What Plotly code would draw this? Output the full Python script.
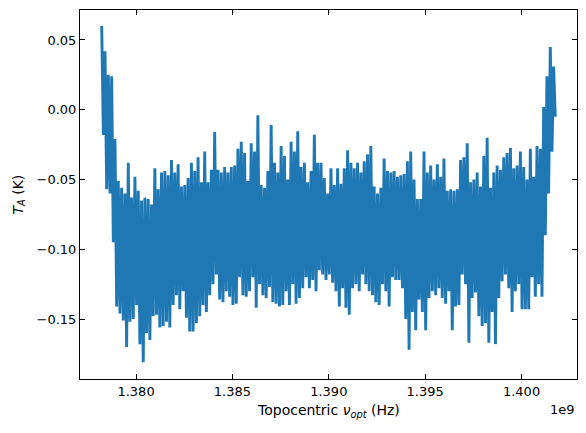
import numpy as np
import plotly.graph_objects as go

# Channel frequency grid (Hz): first and last channel
freq_start = 1.3782175e9
freq_stop = 1.4017497e9

# Upper excursions of the spectrum, left to right (K)
ta_peaks = [
    0.060, 0.042, 0.025, 0.024, -0.021, -0.051, -0.056, -0.060, -0.038, -0.063,
    -0.048, -0.058, -0.065, -0.063, -0.064, -0.068, -0.042, -0.057, -0.045, -0.044,
    -0.047, -0.036, -0.045, -0.039, -0.055, -0.054, -0.049, -0.038, -0.044, -0.034,
    -0.052, -0.030, -0.052, -0.043, -0.016, -0.043, -0.045, -0.041, -0.045, -0.041,
    -0.040, -0.028, -0.023, -0.031, -0.051, -0.024, -0.030, -0.004, -0.054, -0.056,
    -0.044, -0.011, -0.038, -0.045, -0.026, -0.033, -0.050, -0.023, -0.030, -0.0155,
    -0.041, -0.038, -0.052, -0.044, -0.018, -0.038, -0.038, -0.049, -0.060, -0.042,
    -0.054, -0.042, -0.053, -0.042, -0.029, -0.038, -0.042, -0.038, -0.045, -0.037,
    -0.032, -0.026, -0.055, -0.060, -0.056, -0.035, -0.044, -0.045, -0.044, -0.048,
    -0.047, -0.046, -0.037, -0.030, -0.050, -0.064, -0.064, -0.030, -0.045, -0.040,
    -0.050, -0.039, -0.048, -0.035, -0.058, -0.057, -0.058, -0.057, -0.036, -0.034,
    -0.024, -0.052, -0.050, -0.045, -0.055, -0.033, -0.020, -0.056, -0.045, -0.040,
    -0.043, -0.034, -0.031, -0.0275, -0.042, -0.040, -0.030, -0.041, -0.050, -0.028,
    -0.048, -0.026, -0.028, 0.002, 0.024, 0.045, 0.031,
]

# Lower excursions of the spectrum, left to right (K)
ta_troughs = [
    -0.018, -0.057, -0.060, -0.095, -0.141, -0.146, -0.151, -0.170, -0.152, -0.150,
    -0.140, -0.168, -0.181, -0.160, -0.165, -0.148, -0.147, -0.156, -0.155, -0.152,
    -0.156, -0.140, -0.133, -0.143, -0.130, -0.149, -0.159, -0.159, -0.153, -0.148,
    -0.140, -0.145, -0.133, -0.125, -0.118, -0.136, -0.138, -0.130, -0.134, -0.140,
    -0.139, -0.120, -0.133, -0.134, -0.130, -0.120, -0.142, -0.125, -0.133, -0.135,
    -0.127, -0.138, -0.139, -0.141, -0.140, -0.130, -0.140, -0.125, -0.139, -0.135,
    -0.128, -0.120, -0.128, -0.122, -0.130, -0.115, -0.118, -0.122, -0.118, -0.124,
    -0.130, -0.141, -0.128, -0.142, -0.147, -0.128, -0.125, -0.130, -0.118, -0.125,
    -0.130, -0.133, -0.138, -0.140, -0.125, -0.130, -0.141, -0.120, -0.122, -0.122,
    -0.128, -0.150, -0.172, -0.145, -0.158, -0.136, -0.145, -0.158, -0.135, -0.130,
    -0.133, -0.128, -0.135, -0.139, -0.130, -0.158, -0.141, -0.140, -0.118, -0.125,
    -0.167, -0.135, -0.131, -0.148, -0.155, -0.153, -0.167, -0.145, -0.168, -0.135,
    -0.123, -0.118, -0.128, -0.145, -0.130, -0.125, -0.143, -0.143, -0.143, -0.120,
    -0.134, -0.125, -0.134, -0.090, -0.060, -0.030, -0.005,
]

x_tick_vals = [1.380e9, 1.385e9, 1.390e9, 1.395e9, 1.400e9]
x_tick_text = ["1.380", "1.385", "1.390", "1.395", "1.400"]
y_tick_vals = [0.05, 0.0, -0.05, -0.10, -0.15]
y_tick_text = ["0.05", "0.00", "\u22120.05", "\u22120.10", "\u22120.15"]

# interleave peaks and troughs into one spectrum
ta = []
for p, t in zip(ta_peaks, ta_troughs):
    ta.append(p)
    ta.append(t)
freq = np.linspace(freq_start, freq_stop, len(ta))

FONT = "DejaVu Sans"
fig = go.Figure()
fig.add_trace(go.Scatter(x=freq, y=ta, mode="lines",
                         line=dict(color="#1f77b4", width=2.9),
                         showlegend=False, hoverinfo="skip"))

axis_common = dict(showline=True, linecolor="black", linewidth=1, mirror="ticks",
                   ticks="inside", ticklen=5, tickwidth=1, tickcolor="black",
                   showgrid=False, zeroline=False,
                   tickfont=dict(family=FONT, size=13, color="black"))

fig.update_xaxes(range=[1.377092e9, 1.402877e9], tickvals=x_tick_vals,
                 ticktext=x_tick_text, **axis_common)
fig.update_yaxes(range=[-0.193, 0.0715], tickvals=y_tick_vals,
                 ticktext=y_tick_text, **axis_common)

fig.update_layout(
    width=586, height=433,
    margin=dict(l=80, r=9, t=10, b=54),
    paper_bgcolor="white", plot_bgcolor="white",
    font=dict(family=FONT, size=13, color="black"),
    annotations=[
        dict(text="Topocentric <i>\u03bd</i><sub><i>opt</i></sub> (Hz)",
             xref="paper", yref="paper", x=0.5, y=0, xanchor="center",
             yanchor="middle", yshift=-32, showarrow=False,
             font=dict(family=FONT, size=14, color="black")),
        dict(text="<i>T</i><sub><i>A</i></sub> (K)",
             xref="paper", yref="paper", x=0, y=0.5, xanchor="center",
             yanchor="middle", xshift=-62, textangle=-90, showarrow=False,
             font=dict(family=FONT, size=14, color="black")),
        dict(text="1e9", xref="paper", yref="paper", x=1, y=0,
             xanchor="right", yanchor="middle", yshift=-30, showarrow=False,
             font=dict(family=FONT, size=13, color="black")),
    ],
)

fig.write_html("out.html")
